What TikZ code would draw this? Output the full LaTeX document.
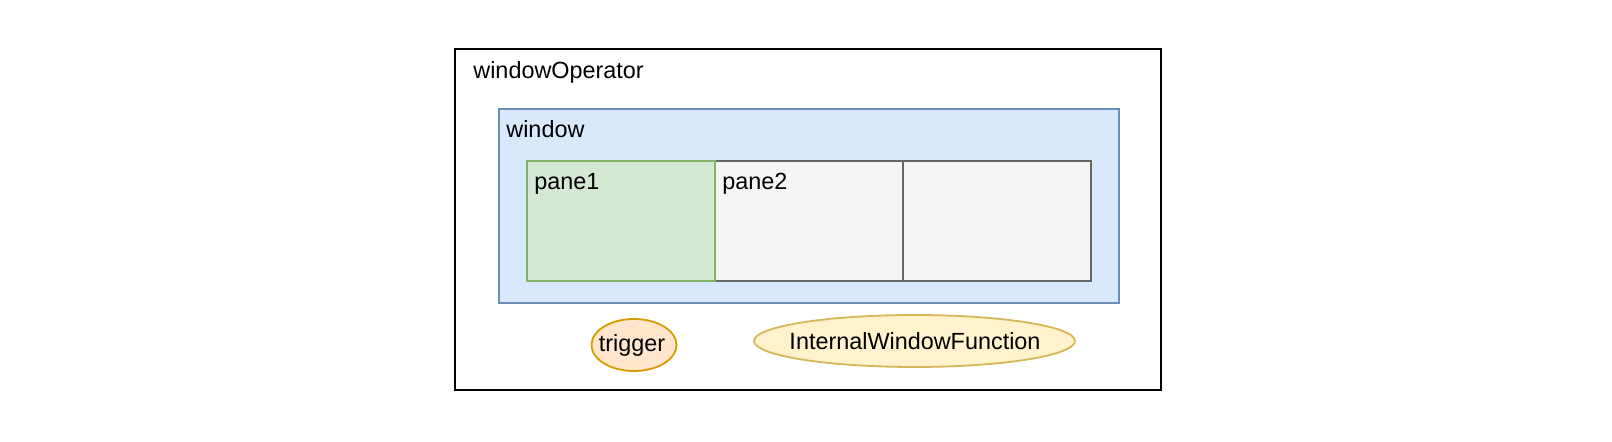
\documentclass[tikz,border=0pt]{standalone}
\usepackage{fontspec}
\setmainfont{Liberation Sans}
\usepackage{tikz}
\definecolor{winfill}{HTML}{DAE8FC}
\definecolor{winline}{HTML}{6C8EBF}
\definecolor{greenfill}{HTML}{D5E8D4}
\definecolor{greenline}{HTML}{82B366}
\definecolor{grayfill}{HTML}{F5F5F5}
\definecolor{grayline}{HTML}{666666}
\definecolor{orangefill}{HTML}{FFE6CC}
\definecolor{orangeline}{HTML}{D79B00}
\definecolor{yellowfill}{HTML}{FFF2CC}
\definecolor{yellowline}{HTML}{D6B656}

\begin{document}
\begin{tikzpicture}[x=0.5pt, y=-0.5pt, font=\fontsize{11.7}{14}\selectfont,
  lbl/.style={anchor=base west, inner sep=0pt},
  oval/.style={line width=0.9pt}]
  \useasboundingbox (0,0) rectangle (1612,442);
  \draw[line width=1.2pt] (455,49) rectangle (1161,390);
  \filldraw[fill=winfill, draw=winline, line width=1pt] (499,109) rectangle (1119,303);
  \filldraw[fill=grayfill, draw=grayline, line width=1pt] (715,161) rectangle (903,281);
  \filldraw[fill=grayfill, draw=grayline, line width=1pt] (903,161) rectangle (1091,281);
  \filldraw[fill=greenfill, draw=greenline, line width=1pt] (527,161) rectangle (715,281);
  \node[lbl] (opname) at (473,79) {windowOperator};
  \node[lbl] (winname) at (506,138) {window};
  \node[lbl] (paneone) at (534,190) {pane1};
  \node[lbl] (panetwo) at (722,190) {pane2};
  \filldraw[oval, fill=orangefill, draw=orangeline] (634,345) ellipse [x radius=42.5, y radius=26];
  \node (trigger) at (632,345) {trigger};
  \filldraw[oval, fill=yellowfill, draw=yellowline] (914.5,341) ellipse [x radius=160.5, y radius=26];
  \node (winfunc) at (915,341) {InternalWindowFunction};
\end{tikzpicture}
\end{document}
